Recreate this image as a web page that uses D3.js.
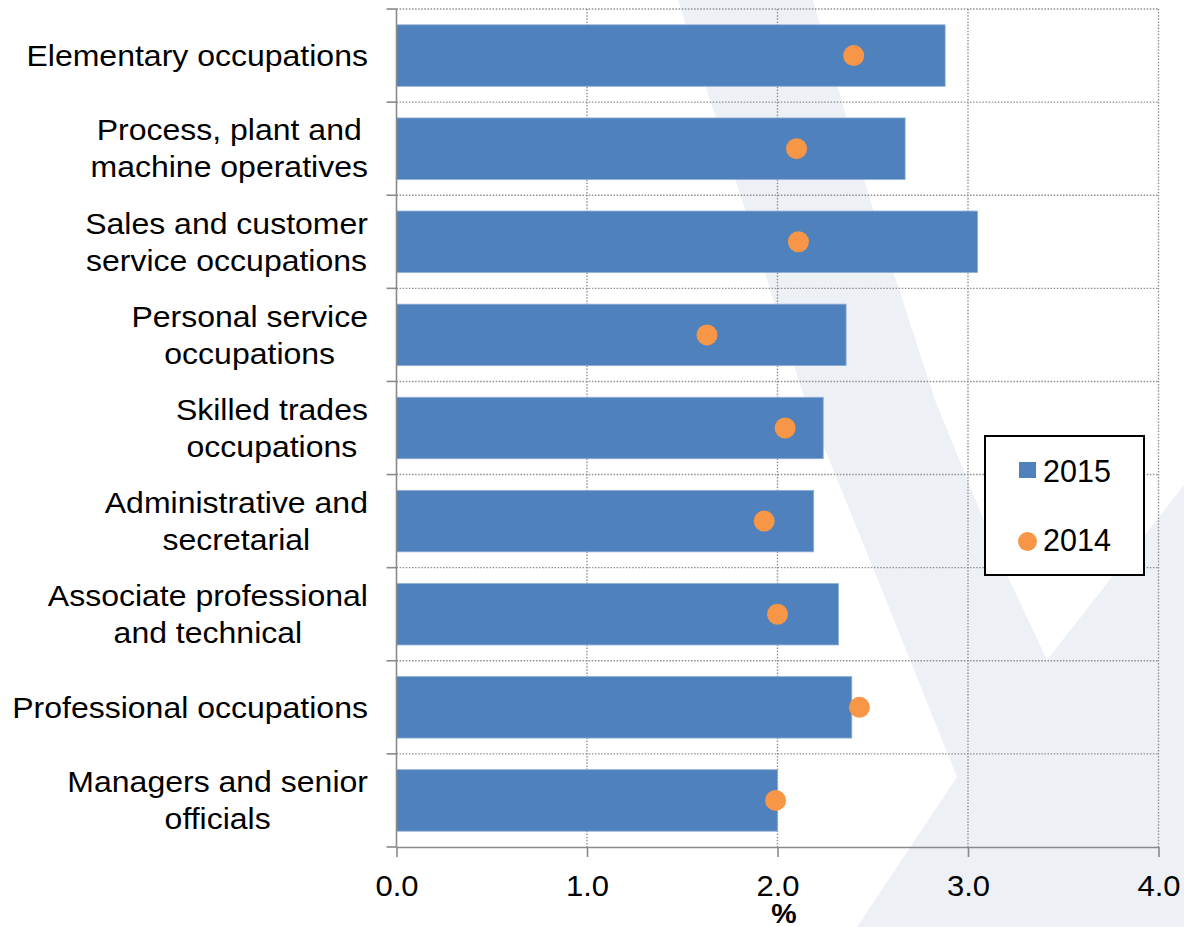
<!DOCTYPE html>
<html>
<head>
<meta charset="utf-8">
<script src="https://cdn.jsdelivr.net/npm/d3@7"></script>
<style>
  html, body { margin: 0; padding: 0; background: #fff; }
  svg { display: block; font-family: "Liberation Sans", Arial, sans-serif; }
</style>
</head>
<body>
<svg id="chart" width="1184" height="927"></svg>
<script>
// Occupation groups, top to bottom; "\n" splits a label over two lines
const categories = [
  "Elementary occupations",
  "Process, plant and\nmachine operatives",
  "Sales and customer\nservice occupations",
  "Personal service\noccupations",
  "Skilled trades\noccupations",
  "Administrative and\nsecretarial",
  "Associate professional\nand technical",
  "Professional occupations",
  "Managers and senior\nofficials"
];
const values2015 = [2.88, 2.67, 3.05, 2.36, 2.24, 2.19, 2.32, 2.39, 2.00];
const values2014 = [2.40, 2.10, 2.11, 1.63, 2.04, 1.93, 2.00, 2.43, 1.99];
const xTicks = [0, 1, 2, 3, 4];
const seriesNames = ["2015", "2014"];
const axisTitle = "%";

const W = 1184, H = 927;
const plot = { left: 396.5, right: 1158.5, top: 9, bottom: 847 };
const barColor = "#4f81bd";
const dotColor = "#f79646";
const gridColor = "#8f8f8f";
const axisColor = "#8a8a8a";
const textStretch = 1.085;   // labels are set slightly wide

const svg = d3.select("#chart");

// faint background logo shape
const logo = [
  [678, 0], [742, 200], [805, 400], [880, 585], [957, 777], [857, 927],
  [1184, 927], [1184, 485], [1047, 660], [1000, 560], [935, 400], [870, 200], [813, 0]
];
svg.append("path")
  .attr("d", d3.line()(logo) + "Z")
  .attr("fill", "#edf1f5");

const x = d3.scaleLinear().domain([0, 4]).range([plot.left, plot.right]);
const y = d3.scaleBand()
  .domain(categories)
  .range([plot.top, plot.bottom])
  .paddingInner(0.34)
  .paddingOuter(0.17);

const step = y.step();
const halfGap = (step - y.bandwidth()) / 2;
const boundaries = categories.map(c => y(c) - halfGap).concat([plot.bottom]);

// dotted grid
const grid = svg.append("g")
  .attr("stroke", gridColor)
  .attr("stroke-width", 1.4)
  .attr("stroke-dasharray", "1.5,1.6")
  .attr("fill", "none");
grid.selectAll("line.h")
  .data(boundaries.slice(0, -1))
  .join("line")
  .attr("class", "h")
  .attr("x1", plot.left).attr("x2", plot.right)
  .attr("y1", d => d).attr("y2", d => d);
grid.selectAll("line.v")
  .data(xTicks.slice(1))
  .join("line")
  .attr("class", "v")
  .attr("x1", d => x(d)).attr("x2", d => x(d))
  .attr("y1", plot.top).attr("y2", plot.bottom);

// 2015 bars
svg.append("g")
  .selectAll("rect")
  .data(categories)
  .join("rect")
  .attr("x", x(0))
  .attr("y", d => y(d))
  .attr("width", (d, i) => x(values2015[i]) - x(0))
  .attr("height", y.bandwidth())
  .attr("fill", barColor)
  .attr("stroke", "#8eacd6")
  .attr("stroke-width", 0.8);

// 2014 markers
svg.append("g")
  .selectAll("circle")
  .data(categories)
  .join("circle")
  .attr("cx", (d, i) => x(values2014[i]))
  .attr("cy", d => y(d) + y.bandwidth() / 2)
  .attr("r", 10.5)
  .attr("fill", dotColor);

// left axis: line plus ticks at category boundaries
const yAxis = svg.append("g").attr("stroke", axisColor).attr("stroke-width", 1.6);
yAxis.append("line")
  .attr("x1", plot.left).attr("x2", plot.left)
  .attr("y1", plot.top).attr("y2", plot.bottom);
yAxis.selectAll("line.t")
  .data(boundaries)
  .join("line")
  .attr("class", "t")
  .attr("x1", plot.left - 10).attr("x2", plot.left)
  .attr("y1", d => d).attr("y2", d => d);

// bottom axis
const xAxis = svg.append("g")
  .attr("transform", `translate(0,${plot.bottom})`)
  .call(d3.axisBottom(x).tickValues(xTicks).tickFormat(d3.format(".1f")).tickSize(10).tickSizeOuter(0));
xAxis.select(".domain").attr("stroke", axisColor).attr("stroke-width", 1.6);
xAxis.selectAll(".tick line").attr("stroke", axisColor).attr("stroke-width", 1.6);
xAxis.selectAll(".tick text")
  .attr("y", 28)
  .attr("dy", "0.71em")
  .attr("transform", "scale(1.05,1)")
  .attr("font-family", "Liberation Sans, Arial, sans-serif")
  .attr("font-size", 29.5)
  .attr("fill", "#000");

svg.append("text")
  .attr("x", 784)
  .attr("y", 923)
  .attr("text-anchor", "middle")
  .attr("font-size", 28.5)
  .attr("font-weight", "bold")
  .attr("fill", "#000")
  .text(axisTitle);

// category labels: line blocks right-aligned to the axis, lines centred within each block
const labelRight = 368;
const lineGap = 37;
const labels = svg.append("g").attr("font-size", 29.5).attr("fill", "#000");
categories.forEach(c => {
  const lines = c.split("\n");
  const g = labels.append("g");
  const texts = lines.map((t, k) => g.append("text")
    .attr("dy", "0.35em")
    .attr("text-anchor", "middle")
    .attr("data-y", y(c) + y.bandwidth() / 2 + (k - (lines.length - 1) / 2) * lineGap)
    .text(t));
  const maxW = d3.max(texts, t => t.node().getComputedTextLength()) * textStretch;
  texts.forEach(t => t.attr("transform",
    `translate(${labelRight - maxW / 2},${t.attr("data-y")}) scale(${textStretch},1)`));
});

// legend
const legend = svg.append("g");
legend.append("rect")
  .attr("x", 985).attr("y", 436)
  .attr("width", 159).attr("height", 139)
  .attr("fill", "#fff")
  .attr("stroke", "#000")
  .attr("stroke-width", 2);
legend.append("rect")
  .attr("x", 1019).attr("y", 462)
  .attr("width", 17).attr("height", 16)
  .attr("fill", barColor);
legend.append("circle")
  .attr("cx", 1027.5).attr("cy", 541.5)
  .attr("r", 9.5)
  .attr("fill", dotColor);
legend.selectAll("text.l")
  .data(seriesNames)
  .join("text")
  .attr("class", "l")
  .attr("x", 1043)
  .attr("y", (d, i) => i === 0 ? 482 : 551)
  .attr("font-size", 30.5)
  .attr("fill", "#000")
  .text(d => d);
</script>
</body>
</html>
